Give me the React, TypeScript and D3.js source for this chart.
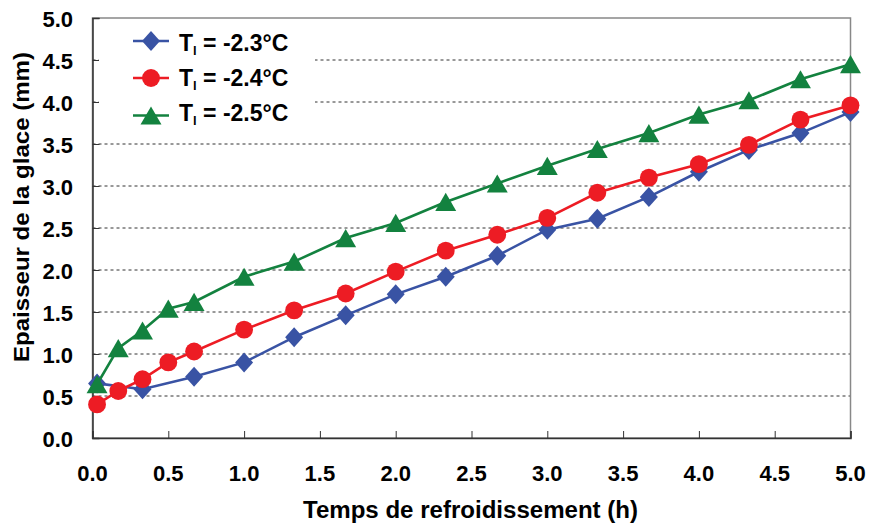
import * as d3 from "d3";
import { useEffect, useRef } from "react";
import * as React from "react";

// cooling time (h)
const times = [0.03, 0.17, 0.33, 0.5, 0.67, 1.0, 1.33, 1.67, 2.0, 2.33, 2.67, 3.0, 3.33, 3.67, 4.0, 4.33, 4.67, 5.0];

// ice thickness (mm), null where no point
const thick23 = [0.65, null, 0.58, null, 0.73, 0.9, 1.2, 1.46, 1.71, 1.92, 2.17, 2.48, 2.61, 2.87, 3.17, 3.43, 3.63, 3.88];
const thick24 = [0.4, 0.56, 0.7, 0.9, 1.03, 1.29, 1.52, 1.72, 1.98, 2.23, 2.42, 2.62, 2.92, 3.1, 3.26, 3.49, 3.79, 3.96];
const thick25 = [0.64, 1.07, 1.28, 1.54, 1.62, 1.92, 2.1, 2.38, 2.56, 2.81, 3.03, 3.24, 3.44, 3.63, 3.85, 4.02, 4.27, 4.45];

const seriesLabels = ["-2.3°C", "-2.4°C", "-2.5°C"];
const xTicks = [0, 0.5, 1, 1.5, 2, 2.5, 3, 3.5, 4, 4.5, 5];
const yTicks = [0, 0.5, 1, 1.5, 2, 2.5, 3, 3.5, 4, 4.5, 5];

const colors = ["#3953a4", "#ed1c24", "#13823f"];

// diamond a bit taller than wide, like the original markers
const diamond = "M0,-10L9,0L0,10L-9,0Z";
const circle = d3.symbol().type(d3.symbolCircle).size(250)() as string;
const triangle = d3.symbol().type(d3.symbolTriangle).size(190)() as string;
const markers = [diamond, circle, triangle];
const markerDy = [0, 0, 3];

const App: React.FC = () => {
  const ref = useRef<SVGSVGElement>(null);

  useEffect(() => {
    const width = 870;
    const height = 526;
    const margin = { top: 18, right: 19.5, bottom: 88, left: 92.5 };
    const font = "'Liberation Sans', Arial, sans-serif";

    const svg = d3.select(ref.current);
    svg.selectAll("*").remove();

    const x = d3.scaleLinear().domain([0, 5]).range([margin.left, width - margin.right]);
    const y = d3.scaleLinear().domain([0, 5]).range([height - margin.bottom, margin.top]);

    // dashed gridlines
    svg
      .append("g")
      .selectAll("line")
      .data(yTicks.filter((t) => t > 0 && t < 5))
      .enter()
      .append("line")
      .attr("x1", x(0))
      .attr("x2", x(5))
      .attr("y1", (d) => y(d))
      .attr("y2", (d) => y(d))
      .attr("stroke", "#333")
      .attr("stroke-width", 1)
      .attr("stroke-dasharray", "3,3");

    // plot frame
    svg
      .append("rect")
      .attr("x", x(0))
      .attr("y", y(5))
      .attr("width", x(5) - x(0))
      .attr("height", y(0) - y(5))
      .attr("fill", "none")
      .attr("stroke", "#888")
      .attr("stroke-width", 1.5);

    // axes, ticks pointing inside
    const xAxis = svg
      .append("g")
      .attr("transform", `translate(0,${y(0)})`)
      .call(d3.axisTop(x).tickValues(xTicks).tickSize(7).tickFormat(() => ""));
    xAxis.select(".domain").attr("stroke", "#333").attr("stroke-width", 1.5);
    xAxis.selectAll("line").attr("stroke", "#333");

    const yAxis = svg
      .append("g")
      .attr("transform", `translate(${x(0)},0)`)
      .call(d3.axisRight(y).tickValues(yTicks).tickSize(7).tickFormat(() => ""));
    yAxis.select(".domain").attr("stroke", "#333").attr("stroke-width", 1.5);
    yAxis.selectAll("line").attr("stroke", "#333");

    // tick labels
    svg
      .append("g")
      .selectAll("text")
      .data(xTicks)
      .enter()
      .append("text")
      .attr("x", (d) => x(d))
      .attr("y", y(0) + 43)
      .attr("text-anchor", "middle")
      .attr("font-family", font)
      .attr("font-weight", "bold")
      .attr("font-size", 22)
      .text((d) => d.toFixed(1));

    svg
      .append("g")
      .selectAll("text")
      .data(yTicks)
      .enter()
      .append("text")
      .attr("x", 73)
      .attr("y", (d) => y(d) + 8.5)
      .attr("text-anchor", "end")
      .attr("font-family", font)
      .attr("font-weight", "bold")
      .attr("font-size", 22)
      .text((d) => d.toFixed(1));

    // axis titles
    svg
      .append("text")
      .attr("x", 303)
      .attr("y", 518)
      .attr("font-family", font)
      .attr("font-weight", "bold")
      .attr("font-size", 23)
      .attr("textLength", 335)
      .attr("lengthAdjust", "spacingAndGlyphs")
      .text("Temps de refroidissement (h)");

    svg
      .append("text")
      .attr("transform", `translate(29,362) rotate(-90)`)
      .attr("font-family", font)
      .attr("font-weight", "bold")
      .attr("font-size", 22)
      .attr("textLength", 310)
      .attr("lengthAdjust", "spacingAndGlyphs")
      .text("Epaisseur de la glace (mm)");

    // legend background covers the gridlines
    svg
      .append("rect")
      .attr("x", 99)
      .attr("y", 20)
      .attr("width", 216)
      .attr("height", 114)
      .attr("fill", "#fff");

    // series
    const allSeries = [thick23, thick24, thick25];
    allSeries.forEach((vals, i) => {
      const pts = times
        .map((t, j) => ({ t, v: vals[j] }))
        .filter((p) => p.v !== null) as { t: number; v: number }[];

      const line = d3
        .line<{ t: number; v: number }>()
        .x((d) => x(d.t))
        .y((d) => y(d.v));

      svg
        .append("path")
        .attr("d", line(pts))
        .attr("fill", "none")
        .attr("stroke", colors[i])
        .attr("stroke-width", 2.6);

      svg
        .append("g")
        .selectAll("path")
        .data(pts)
        .enter()
        .append("path")
        .attr("transform", (d) => `translate(${x(d.t)},${y(d.v) + markerDy[i]})`)
        .attr("d", markers[i])
        .attr("fill", colors[i]);
    });

    // legend
    const lineY = [41, 78, 115.5];
    const textY = [50.5, 85.5, 120.5];
    const leg = svg.append("g");
    seriesLabels.forEach((lab, i) => {
      leg
        .append("line")
        .attr("x1", 133)
        .attr("x2", 169)
        .attr("y1", lineY[i])
        .attr("y2", lineY[i])
        .attr("stroke", colors[i])
        .attr("stroke-width", 2.6);
      leg
        .append("path")
        .attr("transform", `translate(151,${lineY[i] + markerDy[i]})`)
        .attr("d", markers[i])
        .attr("fill", colors[i]);
      const txt = leg
        .append("text")
        .attr("x", 179)
        .attr("y", textY[i])
        .attr("font-family", font)
        .attr("font-weight", "bold")
        .attr("font-size", 23);
      txt.append("tspan").text("T");
      txt.append("tspan").attr("font-size", 13).attr("dy", 4).text("l");
      txt.append("tspan").attr("dy", -4).text(" = " + lab);
    });

    return () => {
      svg.selectAll("*").remove();
    };
  });

  return (
    <svg
      ref={ref}
      width={870}
      height={526}
      style={{ position: "absolute", left: 0, top: 0, background: "#fff" }}
    />
  );
};

export default App;
